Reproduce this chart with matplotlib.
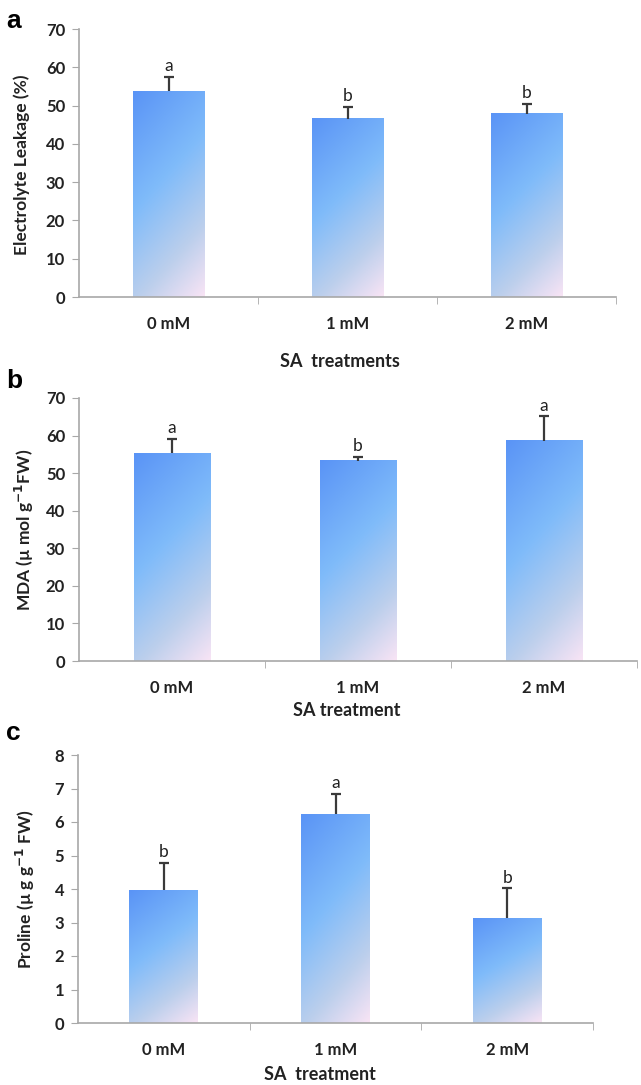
import numpy as np
import matplotlib
matplotlib.use('Agg')
import matplotlib.pyplot as plt
from matplotlib.colors import LinearSegmentedColormap

# Data
doses = ['0 mM', '1 mM', '2 mM']

leakage = [53.8, 46.6, 47.9]
leakage_err = [3.7, 3.1, 2.6]
leakage_letters = ['a', 'b', 'b']

mda = [55.3, 53.3, 58.6]
mda_err = [3.9, 1.1, 6.5]
mda_letters = ['a', 'b', 'a']

proline = [3.97, 6.23, 3.12]
proline_err = [0.81, 0.60, 0.90]
proline_letters = ['b', 'a', 'b']

W, H = 641, 1085
plt.rcParams['font.family'] = ['Lato', 'DejaVu Sans']

fig = plt.figure(figsize=(W / 100, H / 100), dpi=100)

# blue -> light blue -> greyish -> pink, diagonal like the Excel fill
cmap = LinearSegmentedColormap.from_list(
    'excel', [(0.0, '#5a94f6'), (0.42, '#7fbbfa'), (0.75, '#bccfec'), (1.0, '#f8e4f5')])


def px_axes(left, right, top, bottom):
    return fig.add_axes([left / W, 1 - bottom / H, (right - left) / W, (bottom - top) / H])


def draw_panel(ax, values, errs, letters, ymax, ystep, width=0.4):
    x = np.arange(len(values))
    # gradient bars
    nx, ny = 60, 120
    gx, gy = np.meshgrid(np.linspace(0, 1, nx), np.linspace(1, 0, ny))
    t = 0.72 * (1 - gy) + 0.28 * gx
    for xi, v in zip(x, values):
        ax.imshow(t, cmap=cmap, vmin=0, vmax=1, aspect='auto',
                  extent=(xi - width / 2, xi + width / 2, 0, v), zorder=2,
                  interpolation='bilinear')
    ax.set_aspect('auto')
    ax.set_xlim(-0.5, len(values) - 0.5)
    ax.set_ylim(0, ymax)
    # upper error bars only
    tops = np.array(values) + np.array(errs)
    ax.vlines(x, values, tops, color='#3a3a3a', linewidth=1.6, zorder=3)
    ax.plot(x, tops, linestyle='none', marker='_', markersize=7, markeredgewidth=1.6,
            color='#3a3a3a', zorder=3)
    for xi, tp, lab in zip(x, tops, letters):
        ax.annotate(lab, (xi, tp), xytext=(0, 2), textcoords='offset points',
                    ha='center', va='bottom', fontsize=12.5, color='#222222')
    for s in ['top', 'right']:
        ax.spines[s].set_visible(False)
    for s in ['left', 'bottom']:
        ax.spines[s].set_color('#a8a8a8')
        ax.spines[s].set_linewidth(1.2)
    ax.set_yticks(np.arange(0, ymax + ystep / 2, ystep))
    ax.tick_params(axis='y', length=5, color='#a8a8a8', labelsize=12, pad=5)
    for lab in ax.get_yticklabels():
        lab.set_fontweight('bold')
        lab.set_color('#222222')
    ax.set_xticks(x)
    ax.set_xticklabels(doses, fontsize=12, fontweight='bold', color='#222222')
    ax.tick_params(axis='x', length=0, pad=14)
    ax.set_xticks(np.arange(len(values)) + 0.5, minor=True)
    ax.tick_params(axis='x', which='minor', length=5, color='#a8a8a8', direction='out')


ax_a = px_axes(79, 616, 29, 297)
draw_panel(ax_a, leakage, leakage_err, leakage_letters, 70, 10)
ax_b = px_axes(79, 637, 398, 661)
draw_panel(ax_b, mda, mda_err, mda_letters, 70, 10, width=0.41)
ax_c = px_axes(78, 593, 755, 1023)
draw_panel(ax_c, proline, proline_err, proline_letters, 8, 1)


def ftext(x, y, s, **kw):
    fig.text(x / W, 1 - y / H, s, **kw)


# panel letters
ftext(6, 21, 'a', fontsize=19, fontweight='bold', family='Liberation Sans', va='center')
ftext(6, 381, 'b', fontsize=19, fontweight='bold', family='Liberation Sans', va='center')
ftext(6, 733, 'c', fontsize=19, fontweight='bold', family='Liberation Sans', va='center')

# axis titles
ftext(340, 362, 'SA  treatments', fontsize=13, fontweight='bold', ha='center', va='center', color='#222222')
ftext(347, 711, 'SA treatment', fontsize=13, fontweight='bold', ha='center', va='center', color='#222222')
ftext(320, 1075, 'SA  treatment', fontsize=13, fontweight='bold', ha='center', va='center', color='#222222')

ftext(22, 165, 'Electrolyte Leakage (%)', fontsize=12.5, fontweight='bold', rotation=90,
      ha='center', va='center', color='#222222')
ftext(24, 530, r'MDA (µ mol g$^{\mathbf{-1}}$FW)', fontsize=12.5, fontweight='bold', rotation=90,
      ha='center', va='center', color='#222222')
ftext(25, 889, r'Proline (µ g g$^{\mathbf{-1}}$ FW)', fontsize=12.5, fontweight='bold', rotation=90,
      ha='center', va='center', color='#222222')

fig.savefig('out.png', dpi=100)
